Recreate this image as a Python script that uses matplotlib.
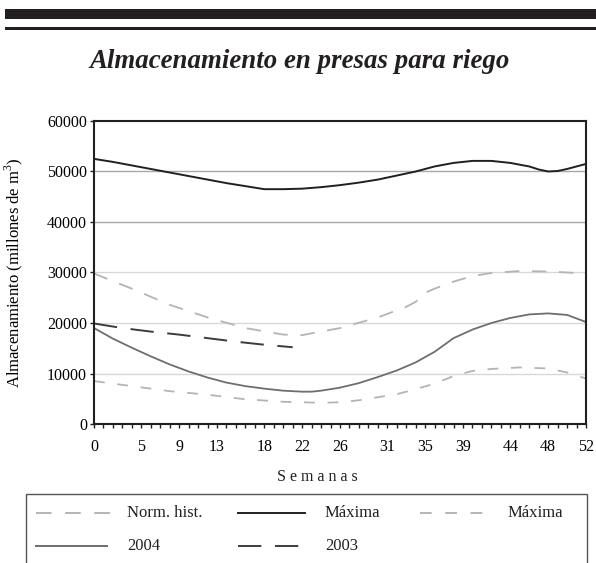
import matplotlib
matplotlib.use("Agg")
import matplotlib.pyplot as plt
from matplotlib.lines import Line2D
import numpy as np

plt.rcParams["font.family"] = ["Liberation Serif", "DejaVu Serif"]
plt.rcParams["mathtext.fontset"] = "custom"
plt.rcParams["mathtext.rm"] = "Liberation Serif"

# ==================================
# datos (millones de m3, por semana)
# ==================================
week_ticks = [0, 5, 9, 13, 18, 22, 26, 31, 35, 39, 44, 48, 52]

max_weeks = [0, 2, 4, 6, 8, 10, 12, 14, 16, 18, 20, 22, 24, 26, 28, 30,
             32, 34, 36, 38, 40, 42, 44, 46, 47, 48, 49, 50, 52]
max_vals = [52500, 51900, 51200, 50500, 49800, 49100, 48400, 47700, 47100,
            46500, 46500, 46600, 46900, 47300, 47800, 48400, 49200, 50000,
            51000, 51700, 52100, 52100, 51700, 51000, 50400, 50000, 50100,
            50500, 51500]

norm_weeks = [0, 4, 8, 12, 16, 20, 22, 26, 30, 33, 34, 35, 36, 38, 40, 42,
              45, 48, 52]
norm_vals = [29800, 26800, 23600, 21100, 19000, 17700, 17600, 19000, 21100,
             23200, 24200, 26000, 26800, 28200, 29300, 29900, 30300, 30200,
             29800]

min_weeks = [0, 4, 8, 12, 16, 20, 24, 26, 28, 30, 32, 34, 36, 38, 40, 42,
             45, 48, 50, 52]
min_vals = [8500, 7500, 6500, 5800, 4900, 4400, 4200, 4300, 4700, 5300,
            5900, 6900, 8000, 9500, 10500, 10900, 11200, 11000, 10200, 9000]

y2004_weeks = [0, 2, 4, 6, 8, 10, 12, 14, 16, 18, 20, 22, 23, 24, 26, 28,
               30, 32, 34, 36, 38, 40, 42, 44, 46, 48, 50, 52]
y2004_vals = [19000, 16900, 15100, 13400, 11800, 10400, 9200, 8200, 7500,
              7000, 6600, 6400, 6400, 6600, 7200, 8100, 9300, 10600, 12200,
              14300, 17000, 18700, 20000, 21000, 21700, 21900, 21600, 20200]

y2003_weeks = [0, 3, 6, 9, 12, 15, 18, 21]
y2003_vals = [19900, 19000, 18300, 17700, 17000, 16300, 15700, 15200]

# ==================================
# figura
# ==================================
fig = plt.figure(figsize=(5.96, 5.63), dpi=100)

# barras de cabecera
fig.add_artist(plt.Rectangle((5 / 596, 1 - 19 / 563), 1, 10 / 563,
                             transform=fig.transFigure, color="#231f20", lw=0))
fig.add_artist(plt.Rectangle((5 / 596, 1 - 29.5 / 563), 1, 2.5 / 563,
                             transform=fig.transFigure, color="#231f20", lw=0))

fig.text(0.502, 1 - 62 / 563, "Almacenamiento en presas para riego",
         ha="center", va="center", fontsize=19.4, fontweight="bold",
         fontstyle="italic", color="#231f20")

ax = fig.add_axes([94 / 596, 139 / 563, 492 / 596, 303 / 563])

c_norm = "#b4b4b4"
c_max = "#231f20"
c_2004 = "#6e6e70"
c_2003 = "#3c3c3e"

d_norm = (8, 7)
d_min = (6, 7)
d_2003 = (12, 7)

ax.plot(norm_weeks, norm_vals, color=c_norm, lw=1.3, dashes=d_norm)
ax.plot(max_weeks, max_vals, color=c_max, lw=1.4)
ax.plot(min_weeks, min_vals, color=c_norm, lw=1.3, dashes=d_min)
ax.plot(y2004_weeks, y2004_vals, color=c_2004, lw=1.3)
ax.plot(y2003_weeks, y2003_vals, color=c_2003, lw=1.4, dashes=d_2003)

for v in [10000, 20000, 30000]:
    ax.axhline(v, color="#d8d8d8", lw=1.0, zorder=0)
for v in [40000, 50000]:
    ax.axhline(v, color="#a8a8ae", lw=1.0, zorder=0)

ax.set_xlim(0, 52)
ax.set_ylim(0, 60000)
ax.set_xticks(range(53), minor=True)
ax.set_xticks(week_ticks)
ax.set_yticks(range(0, 60001, 10000))
ax.tick_params(axis="x", which="both", direction="out", length=3, width=1,
               labelsize=11.5, pad=8, color="#231f20")
ax.tick_params(axis="y", direction="out", length=3, width=1,
               labelsize=11.5, pad=2, color="#231f20")
for s in ax.spines.values():
    s.set_linewidth(1.5)
    s.set_color("#231f20")

ax.set_ylabel("Almacenamiento (millones de m$^3$)", fontsize=12)
ax.yaxis.set_label_coords((25 - 94) / 492, 0.5)

fig.text(317 / 596, 1 - 477 / 563, "S e m a n a s", ha="center",
         va="center", fontsize=11.5, color="#231f20")

# ==================================
# leyenda
# ==================================
fig.add_artist(plt.Rectangle((26 / 596, -0.05), 561 / 596, 1 - 494 / 563 + 0.05,
                             transform=fig.transFigure, fill=False,
                             edgecolor="#555555", lw=1.0))

entries = [
    (36, 115, 513, c_norm, d_norm, "Norm. hist.", 127),
    (238, 305, 513, c_max, None, "Máxima", 325),
    (420, 487, 513, c_norm, d_min, "Máxima", 508),
    (36, 107, 546, c_2004, None, "2004", 127),
    (238, 305, 546, c_2003, d_2003, "2003", 325),
]
for x0, x1, y, col, dash, label, tx in entries:
    ln = Line2D([x0 / 596, x1 / 596], [1 - y / 563, 1 - y / 563],
                transform=fig.transFigure, color=col, lw=1.4)
    if dash:
        ln.set_dashes(dash)
    fig.add_artist(ln)
    fig.text(tx / 596, 1 - y / 563, label, ha="left", va="center",
             fontsize=12, color="#231f20")

plt.savefig("out.png", dpi=100)
